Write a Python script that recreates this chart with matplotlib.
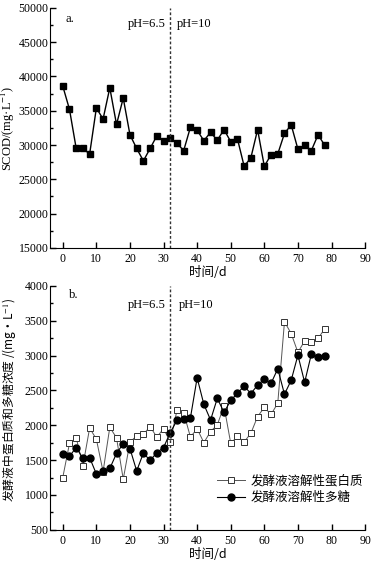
import numpy as np
import matplotlib
matplotlib.use("Agg")
import matplotlib.pyplot as plt
from matplotlib.ticker import MultipleLocator

plt.rcParams['font.family'] = ['Liberation Serif', 'Noto Sans CJK SC']
plt.rcParams['font.size'] = 8
plt.rcParams['mathtext.fontset'] = 'stix'
CJK = ['Noto Sans CJK SC', 'Liberation Serif']

days = np.arange(0, 80, 2)

# SCOD (mg/L)
scod = [38600, 35200, 29500, 29500, 28700, 35400, 33800, 38350, 33000, 36850,
        31500, 29500, 27700, 29500, 31350, 30550, 31000, 30250, 29200, 32600,
        32150, 30650, 31850, 30700, 32250, 30500, 30900, 26900, 28150, 32250,
        26900, 28600, 28700, 31700, 32950, 29400, 29950, 29200, 31500, 29950]

# soluble protein and polysaccharide (mg/L)
protein = [1250, 1740, 1820, 1420, 1960, 1800, 1335, 1970, 1820, 1225,
           1755, 1850, 1870, 1980, 1830, 1950, 1760, 2215, 2180, 1830,
           1950, 1750, 1910, 2005, 2275, 1740, 1840, 1760, 1885, 2125,
           2255, 2155, 2315, 3485, 3315, 3045, 3210, 3195, 3245, 3385]
polysac = [1590, 1555, 1680, 1525, 1535, 1300, 1350, 1380, 1595, 1735,
           1665, 1345, 1600, 1495, 1605, 1680, 1895, 2070, 2095, 2105,
           2680, 2300, 2075, 2385, 2185, 2355, 2460, 2560, 2455, 2575,
           2660, 2600, 2810, 2445, 2645, 3005, 2615, 3020, 2980, 3000]

switch_day = 32
xticks = list(range(0, 100, 10))

fig = plt.figure(figsize=(3.76, 5.66), dpi=100)
ax1 = fig.add_axes([0.133, 0.562, 0.838, 0.424])
ax2 = fig.add_axes([0.133, 0.064, 0.838, 0.431])


def style_axis(ax, ylim, major, minor):
    ax.set_xlim(-3.8, 90)
    ax.set_ylim(*ylim)
    ax.set_xticks(xticks)
    ax.yaxis.set_major_locator(MultipleLocator(major))
    ax.yaxis.set_minor_locator(MultipleLocator(minor))
    ax.spines['top'].set_visible(False)
    ax.spines['right'].set_visible(False)
    ax.tick_params(direction='in', length=4, width=1, labelsize=8.5)
    ax.tick_params(which='minor', direction='in', length=2.5, width=1)
    ax.tick_params(axis='y', pad=1)
    ax.set_xlabel('时间/d', fontsize=9, labelpad=1, family=CJK)
    ax.axvline(switch_day, color='#333333', linestyle=(0, (2, 1.5)), linewidth=1)


# panel a
ax1.plot(days, scod, color='black', marker='s', markersize=4.8, linewidth=1)
style_axis(ax1, (15000, 50000), 5000, 2500)
ax1.set_ylabel('SCOD/(mg·L$^{-1}$)', fontsize=9)
ax1.yaxis.set_label_coords(-0.105, 0.5)
ax1.text(0.05, 0.98, 'a.', transform=ax1.transAxes, fontsize=9, va='top')
ax1.text(30.5, 47600, 'pH=6.5', fontsize=9, ha='right', va='center')
ax1.text(34, 47600, 'pH=10', fontsize=9, ha='left', va='center')

# panel b
ax2.plot(days, protein, color='#555555', marker='s', markersize=4,
         markerfacecolor='white', markeredgecolor='#333333', markeredgewidth=0.7,
         linewidth=0.7, label='发酵液溶解性蛋白质')
ax2.plot(days, polysac, color='black', marker='o', markersize=5,
         linewidth=0.8, label='发酵液溶解性多糖')
style_axis(ax2, (500, 4000), 500, 250)
ax2.set_ylabel('发酵液中蛋白质和多糖浓度 /(mg·L$^{-1}$)', fontsize=8.5, family=CJK)
ax2.yaxis.set_label_coords(-0.1, 0.53)
ax2.text(0.06, 0.985, 'b.', transform=ax2.transAxes, fontsize=9, va='top')
ax2.text(30.5, 3730, 'pH=6.5', fontsize=9, ha='right', va='center')
ax2.text(34.5, 3730, 'pH=10', fontsize=9, ha='left', va='center')
ax2.legend(loc='lower right', bbox_to_anchor=(1.03, 0.06), frameon=False,
           prop={'family': CJK, 'size': 9}, handlelength=2.2,
           handletextpad=0.5, labelspacing=0.3)

fig.savefig('out.png', dpi=100)
